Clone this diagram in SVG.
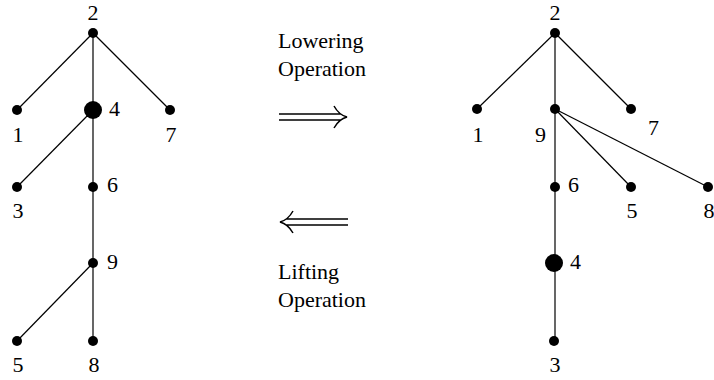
<svg xmlns="http://www.w3.org/2000/svg" width="714" height="380" viewBox="0 0 714 380">
<rect width="714" height="380" fill="#fff"/>
<g id="connectors" stroke="#000" stroke-width="1.2" fill="none">
<line x1="93" y1="33" x2="17" y2="110"/>
<line x1="93" y1="33" x2="93" y2="341"/>
<line x1="93" y1="33" x2="170" y2="110"/>
<line x1="93" y1="110" x2="17" y2="187"/>
<line x1="93" y1="263" x2="17" y2="341"/>
<line x1="555" y1="33" x2="477" y2="109"/>
<line x1="555" y1="33" x2="555" y2="341"/>
<line x1="555" y1="33" x2="631" y2="109"/>
<line x1="555" y1="109" x2="631" y2="187"/>
<line x1="555" y1="109" x2="708" y2="187"/>
</g>
<g id="L2"><circle cx="93" cy="33" r="5"/><text style="font-family:'Liberation Serif',serif;font-size:22px" text-anchor="middle" x="93" y="20">2</text></g>
<g id="L1"><circle cx="17" cy="110" r="5"/><text style="font-family:'Liberation Serif',serif;font-size:22px" text-anchor="middle" x="18" y="142">1</text></g>
<g id="L4"><circle cx="93" cy="110" r="9"/><text style="font-family:'Liberation Serif',serif;font-size:22px" x="109" y="116">4</text></g>
<g id="L7"><circle cx="170" cy="110" r="5"/><text style="font-family:'Liberation Serif',serif;font-size:22px" text-anchor="middle" x="171" y="142">7</text></g>
<g id="L3"><circle cx="17" cy="187" r="5"/><text style="font-family:'Liberation Serif',serif;font-size:22px" text-anchor="middle" x="18" y="218">3</text></g>
<g id="L6"><circle cx="93" cy="187" r="5"/><text style="font-family:'Liberation Serif',serif;font-size:22px" x="107" y="192">6</text></g>
<g id="L9"><circle cx="93" cy="263" r="5"/><text style="font-family:'Liberation Serif',serif;font-size:22px" x="107" y="269">9</text></g>
<g id="L5"><circle cx="17" cy="341" r="5"/><text style="font-family:'Liberation Serif',serif;font-size:22px" text-anchor="middle" x="18" y="372">5</text></g>
<g id="L8"><circle cx="93" cy="341" r="5"/><text style="font-family:'Liberation Serif',serif;font-size:22px" text-anchor="middle" x="94" y="372">8</text></g>
<g id="R2"><circle cx="555" cy="33" r="5"/><text style="font-family:'Liberation Serif',serif;font-size:22px" text-anchor="middle" x="555" y="20">2</text></g>
<g id="R1"><circle cx="477" cy="109" r="5"/><text style="font-family:'Liberation Serif',serif;font-size:22px" text-anchor="middle" x="478" y="142">1</text></g>
<g id="R9"><circle cx="555" cy="109" r="5"/><text style="font-family:'Liberation Serif',serif;font-size:22px" x="535" y="142">9</text></g>
<g id="R7"><circle cx="631" cy="109" r="5"/><text style="font-family:'Liberation Serif',serif;font-size:22px" x="648" y="135">7</text></g>
<g id="R6"><circle cx="555" cy="187" r="5"/><text style="font-family:'Liberation Serif',serif;font-size:22px" x="568" y="192">6</text></g>
<g id="R5"><circle cx="631" cy="187" r="5"/><text style="font-family:'Liberation Serif',serif;font-size:22px" text-anchor="middle" x="632" y="218">5</text></g>
<g id="R8"><circle cx="708" cy="187" r="5"/><text style="font-family:'Liberation Serif',serif;font-size:22px" text-anchor="middle" x="709" y="218">8</text></g>
<g id="R4"><circle cx="554" cy="263" r="9"/><text style="font-family:'Liberation Serif',serif;font-size:22px" x="570" y="269">4</text></g>
<g id="R3"><circle cx="554" cy="341" r="5"/><text style="font-family:'Liberation Serif',serif;font-size:22px" text-anchor="middle" x="555" y="372">3</text></g>
<g id="lowering">
<text style="font-family:'Liberation Serif',serif;font-size:22px" x="278" y="48">Lowering</text>
<text style="font-family:'Liberation Serif',serif;font-size:22px" x="278" y="76">Operation</text>
<path stroke="#000" stroke-width="1.5" fill="none" d="M279 114 H341 M279 120 H341 M334 106 Q339 115 347 117 Q339 119 334 128"/>
</g>
<g id="lifting">
<path stroke="#000" stroke-width="1.5" fill="none" d="M348 219 H286 M348 225 H286 M293 211 Q288 220 280 222 Q288 224 293 233"/>
<text style="font-family:'Liberation Serif',serif;font-size:22px" x="278" y="279">Lifting</text>
<text style="font-family:'Liberation Serif',serif;font-size:22px" x="278" y="307">Operation</text>
</g>
</svg>
